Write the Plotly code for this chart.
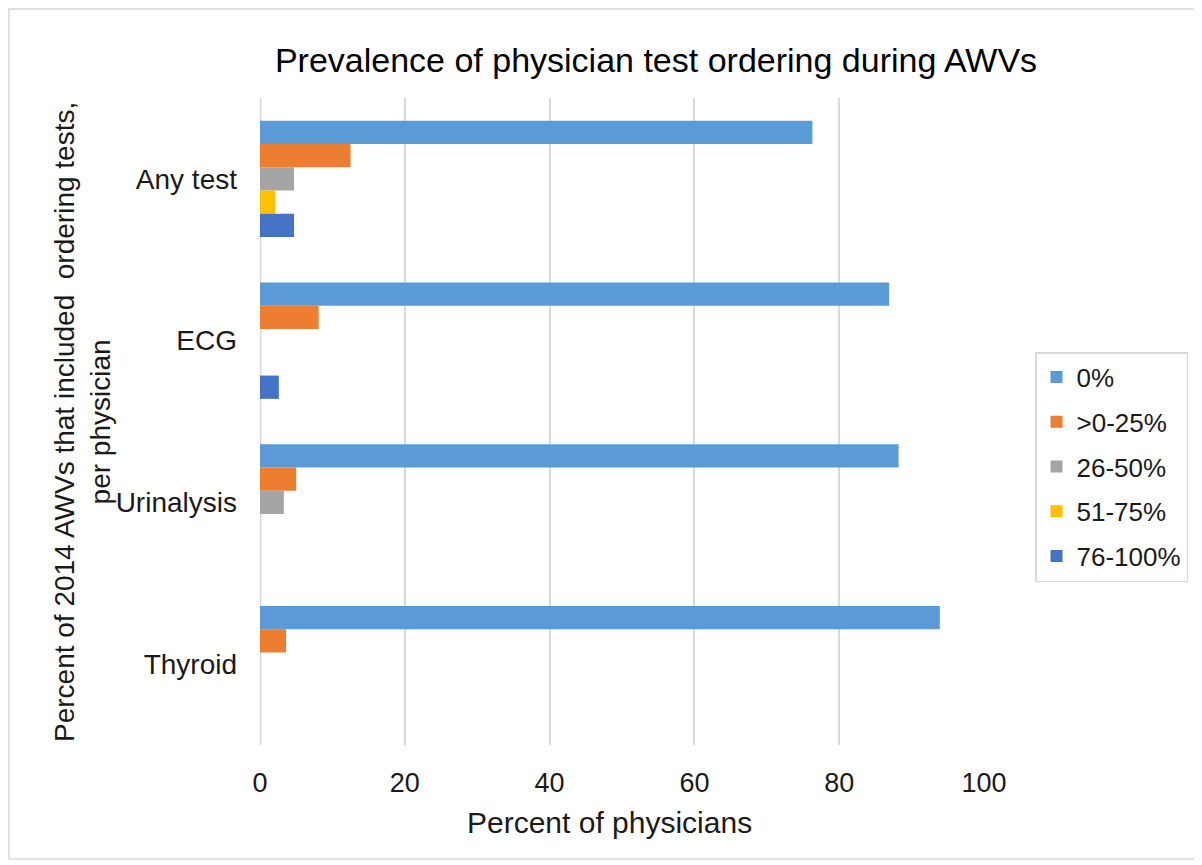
import plotly.graph_objects as go

categories = ["Any test", "ECG", "Urinalysis", "Thyroid"]
series_names = ["0%", ">0-25%", "26-50%", "51-75%", "76-100%"]
v_0 = [76.3, 86.9, 88.2, 93.9]
v_0_25 = [12.5, 8.1, 5.0, 3.6]
v_26_50 = [4.7, 0, 3.3, 0]
v_51_75 = [2.1, 0, 0, 0]
v_76_100 = [4.7, 2.6, 0, 0]
series_values = [v_0, v_0_25, v_26_50, v_51_75, v_76_100]
colors = ["#5B9BD5", "#ED7D31", "#A5A5A5", "#FFC000", "#4472C4"]
x_ticks = [0, 20, 40, 60, 80, 100]

FONT = "Liberation Sans, Arial, sans-serif"
OFF = 8  # browser body margin

fig = go.Figure()
for name, vals, col in zip(series_names, series_values, colors):
    fig.add_trace(go.Bar(
        y=categories, x=vals, name=name, orientation="h", legendgroup=name,
        marker=dict(color=col, line=dict(width=0)),
    ))

W, H = 1202 - OFF, 865 - OFF
L, T = 260 - OFF, 98 - OFF
R = W - (984 - OFF)
B = H - (745 - OFF)
pw, ph = W - L - R, H - T - B


def px(xr):
    return (xr - OFF - L) / pw


def py(yr):
    return (H - B - (yr - OFF)) / ph


fig.update_layout(
    width=W, height=H,
    margin=dict(l=L, r=R, t=T, b=B, pad=0),
    paper_bgcolor="white", plot_bgcolor="white",
    barmode="group", bargap=0.28, bargroupgap=0,
    font=dict(family=FONT, color="#1a1a1a", size=26),
    title=dict(text="Prevalence of physician test ordering during AWVs",
               x=(656 - OFF) / W, xanchor="center", y=1 - (60 - OFF) / H, yanchor="middle",
               font=dict(size=34, family=FONT, color="#000000")),
    xaxis=dict(range=[0, 100], tickvals=x_ticks, showgrid=True,
               gridcolor="#D9D9D9", gridwidth=1.5, zeroline=False,
               showline=False, ticks="", tickfont=dict(size=27),
               ticklabelstandoff=19),
    yaxis=dict(autorange="reversed", showgrid=False, zeroline=False,
               ticks="", tickfont=dict(size=28), ticklabelstandoff=22),
    legend=dict(x=px(1035), xanchor="left", y=py(352), yanchor="top",
                bordercolor="#D9D9D9", borderwidth=1.5, bgcolor="white",
                font=dict(size=26), itemwidth=30, tracegroupgap=8,
                traceorder="grouped"),
    showlegend=True,
)

# zero axis line (Excel-style)
fig.add_shape(type="line", xref="x", yref="paper", x0=0, x1=0, y0=0, y1=1,
              line=dict(color="#D9D9D9", width=3), layer="below")

# outer chart border
fig.add_shape(type="rect", xref="paper", yref="paper",
              x0=px(9), x1=px(1195), y0=py(859), y1=py(9),
              line=dict(color="#D9D9D9", width=1.5))

fig.add_annotation(
    text="Percent of 2014 AWVs that included  ordering tests,<br>per physician",
    xref="paper", yref="paper", x=px(82), y=py(422),
    textangle=-90, showarrow=False, xanchor="center", yanchor="middle",
    font=dict(size=28, family=FONT, color="#1a1a1a"), align="center")

fig.add_annotation(
    text="Percent of physicians",
    xref="paper", yref="paper", x=px(609), y=py(823),
    showarrow=False, xanchor="center", yanchor="middle",
    font=dict(size=30, family=FONT, color="#1a1a1a"))

fig.write_html("out.html")
